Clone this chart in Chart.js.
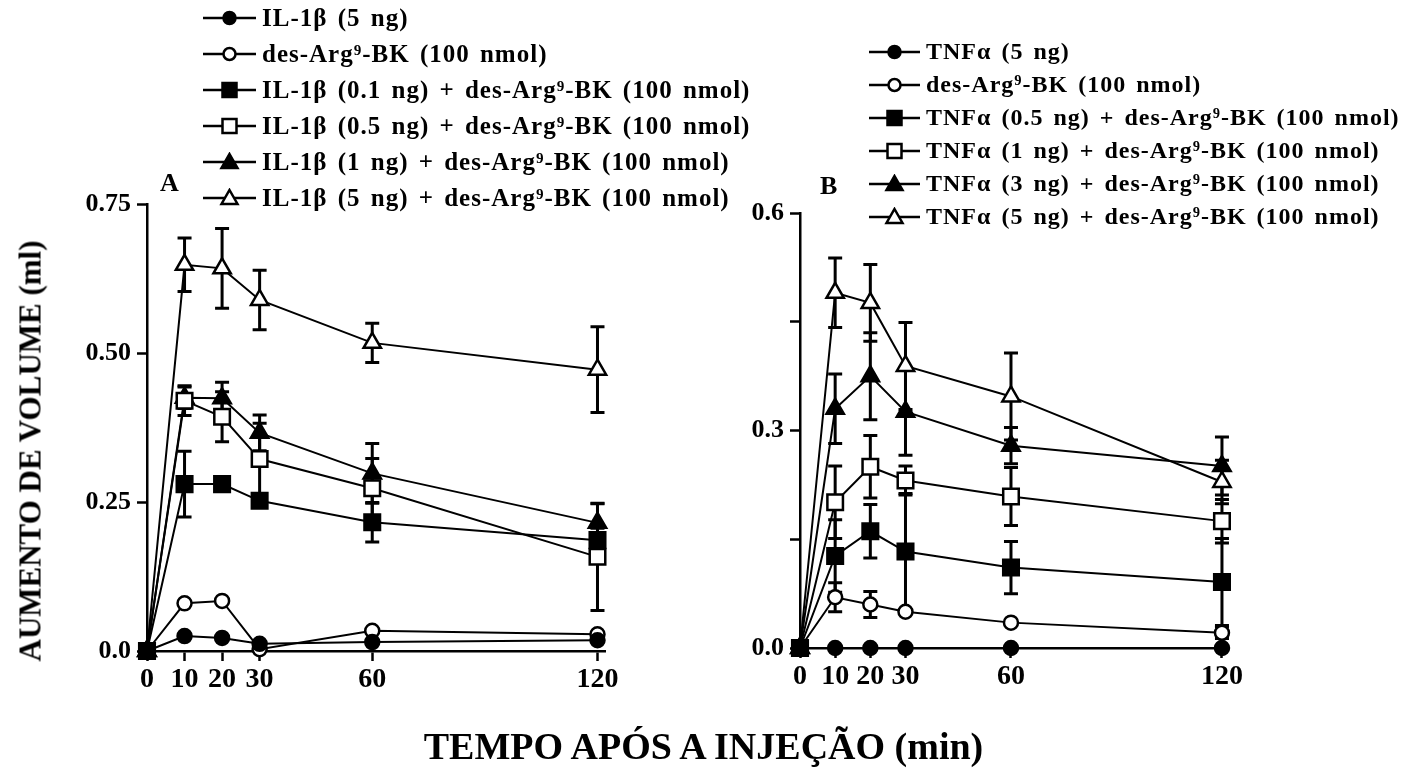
<!DOCTYPE html>
<html>
<head>
<meta charset="utf-8">
<script src="https://cdn.jsdelivr.net/npm/chart.js@4.4.0/dist/chart.umd.min.js"></script>
<style>
  body { margin:0; width:1407px; height:773px; background:#fff; position:relative; overflow:hidden;
         font-family:"Liberation Serif","Times New Roman",serif; font-weight:bold; color:#000; }
  .wrap { position:absolute; top:0; height:773px; }
  #wrapA { left:0; width:690px; }
  #wrapB { left:690px; width:717px; }
  .legend { position:absolute; }
  .legend div { display:flex; align-items:center; white-space:nowrap; letter-spacing:1px; word-spacing:3px; }
  .legend canvas { margin-right:6px; }
  #legendA { left:203px; top:0; }
  #legendA div { height:36px; font-size:25px; }
  #legendB { left:869px; top:35px; }
  #legendB div { height:33px; font-size:24px; }
  .panel { position:absolute; font-size:26px; line-height:26px; }
  #ytitle { position:absolute; left:30px; top:451px; font-size:31px; line-height:31px; white-space:nowrap;
            transform:translate(-50%,-50%) rotate(-90deg); }
  #xtitle { position:absolute; left:0; width:1407px; top:727px; text-align:center; font-size:38px; line-height:38px; }
</style>
</head>
<body>
<div class="wrap" id="wrapA"><canvas id="chartA"></canvas></div>
<div class="wrap" id="wrapB"><canvas id="chartB"></canvas></div>
<div class="legend" id="legendA"></div>
<div class="legend" id="legendB"></div>
<div class="panel" style="left:160px; top:170px;">A</div>
<div class="panel" style="left:820px; top:173px;">B</div>
<div id="ytitle">AUMENTO DE VOLUME (ml)</div>
<div id="xtitle">TEMPO APÓS A INJEÇÃO (min)</div>

<script>
// time points (min)
const times = [0, 10, 20, 30, 60, 120];

// panel A - IL-1beta
const labelsA = [
  'IL-1β (5 ng)',
  'des-Arg⁹-BK (100 nmol)',
  'IL-1β (0.1 ng) + des-Arg⁹-BK (100 nmol)',
  'IL-1β (0.5 ng) + des-Arg⁹-BK (100 nmol)',
  'IL-1β (1 ng) + des-Arg⁹-BK (100 nmol)',
  'IL-1β (5 ng) + des-Arg⁹-BK (100 nmol)'
];
const il1b5 = [0, 0.025, 0.022, 0.012, 0.015, 0.018];
const desArgA = [0, 0.080, 0.084, 0.003, 0.034, 0.028];
const il1b01Des = [0, 0.280, 0.280, 0.252, 0.216, 0.186];
const il1b05Des = [0, 0.420, 0.393, 0.322, 0.273, 0.158];
const il1b1Des = [0, 0.425, 0.424, 0.366, 0.298, 0.215];
const il1b5Des = [0, 0.648, 0.642, 0.589, 0.517, 0.472];
const il1b5Err = [0, 0, 0, 0, 0, 0];
const desArgAErr = [0, 0, 0, 0, 0, 0];
const il1b01DesErr = [0, 0.055, 0.010, 0.010, 0.033, 0.020];
const il1b05DesErr = [0, 0.025, 0.042, 0.060, 0.050, 0.090];
const il1b1DesErr = [0, 0.018, 0.027, 0.030, 0.050, 0.032];
const il1b5DesErr = [0, 0.045, 0.067, 0.050, 0.033, 0.072];

// panel B - TNF alpha
const labelsB = [
  'TNFα (5 ng)',
  'des-Arg⁹-BK (100 nmol)',
  'TNFα (0.5 ng) + des-Arg⁹-BK (100 nmol)',
  'TNFα (1 ng) + des-Arg⁹-BK (100 nmol)',
  'TNFα (3 ng) + des-Arg⁹-BK (100 nmol)',
  'TNFα (5 ng) + des-Arg⁹-BK (100 nmol)'
];
const tnf5 = [0, 0, 0, 0, 0, 0];
const desArgB = [0, 0.070, 0.060, 0.050, 0.035, 0.021];
const tnf05Des = [0, 0.127, 0.161, 0.133, 0.111, 0.091];
const tnf1Des = [0, 0.201, 0.250, 0.231, 0.209, 0.175];
const tnf3Des = [0, 0.330, 0.375, 0.326, 0.279, 0.251];
const tnf5Des = [0, 0.490, 0.476, 0.389, 0.347, 0.229];
const tnf5Err = [0, 0, 0, 0, 0, 0];
const desArgBErr = [0, 0.020, 0.018, 0, 0, 0.008];
const tnf05DesErr = [0, 0.050, 0.037, 0.080, 0.036, 0.060];
const tnf1DesErr = [0, 0.050, 0.043, 0.020, 0.040, 0.030];
const tnf3DesErr = [0, 0.048, 0.060, 0.060, 0.025, 0.040];
const tnf5DesErr = [0, 0.048, 0.053, 0.060, 0.060, 0.030];

// y tick values
const yTicksA = [0, 0.25, 0.5, 0.75];
const yTicksB = [0, 0.15, 0.3, 0.45, 0.6];

// marker for each series (same order in both panels)
const markers = ['circle', 'circle', 'rect', 'rect', 'triangle', 'triangle'];
const filled = [true, false, true, false, true, false];
const radius = { circle: 7, rect: 11, triangle: 10 };

function makeDatasets(labels, values, errs) {
  return labels.map((label, i) => ({
    label: label,
    data: times.map((t, j) => ({ x: t, y: values[i][j] })),
    err: errs[i],
    borderColor: '#000',
    borderWidth: 2,
    pointStyle: markers[i],
    pointRadius: radius[markers[i]],
    pointBorderWidth: 2.5,
    pointBorderColor: '#000',
    pointBackgroundColor: filled[i] ? '#000' : '#fff',
    tension: 0,
    clip: false
  }));
}

// draws the SEM bars through the chart's own scales, under the markers
const errorBars = {
  id: 'errorBars',
  beforeDatasetsDraw(chart) {
    const ctx = chart.ctx;
    const xs = chart.scales.x;
    const ys = chart.scales.y;
    ctx.save();
    ctx.strokeStyle = '#000';
    ctx.lineWidth = 3;
    chart.data.datasets.forEach(ds => {
      ds.err.forEach((e, i) => {
        if (!e) return;
        const v = ds.data[i].y;
        const px = xs.getPixelForValue(ds.data[i].x);
        const top = ys.getPixelForValue(v + e);
        const bot = ys.getPixelForValue(Math.max(0, v - e));
        ctx.beginPath();
        ctx.moveTo(px, top);
        ctx.lineTo(px, bot);
        ctx.moveTo(px - 7, top);
        ctx.lineTo(px + 7, top);
        ctx.moveTo(px - 7, bot);
        ctx.lineTo(px + 7, bot);
        ctx.stroke();
      });
    });
    ctx.restore();
  }
};

function axisGrid() {
  return { display: true, drawOnChartArea: false, drawTicks: true, tickLength: 10, tickColor: '#000', tickWidth: 2.5 };
}

function makeChart(id, datasets, yMax, yTicks, yLabel, yWidth, pad) {
  return new Chart(document.getElementById(id), {
    type: 'line',
    data: { datasets: datasets },
    plugins: [errorBars],
    options: {
      responsive: true,
      maintainAspectRatio: false,
      animation: false,
      layout: { padding: pad },
      plugins: { legend: { display: false }, tooltip: { enabled: false } },
      scales: {
        x: {
          type: 'linear', min: 0, max: 122,
          grid: axisGrid(),
          border: { color: '#000', width: 2.5 },
          afterBuildTicks: s => { s.ticks = times.map(v => ({ value: v })); },
          afterFit: s => { s.height = 50; },
          ticks: {
            color: '#000', padding: 2, maxRotation: 0, autoSkip: false,
            font: { family: 'Liberation Serif', weight: 'bold', size: 28 }
          }
        },
        y: {
          min: 0, max: yMax,
          grid: axisGrid(),
          border: { color: '#000', width: 2.5 },
          afterBuildTicks: s => { s.ticks = yTicks.map(v => ({ value: v })); },
          afterFit: s => { s.width = yWidth; },
          ticks: {
            color: '#000', padding: 6, autoSkip: false,
            font: { family: 'Liberation Serif', weight: 'bold', size: 26 },
            callback: yLabel
          }
        }
      }
    }
  });
}

const chartA = makeChart('chartA',
  makeDatasets(labelsA, [il1b5, desArgA, il1b01Des, il1b05Des, il1b1Des, il1b5Des],
    [il1b5Err, desArgAErr, il1b01DesErr, il1b05DesErr, il1b1DesErr, il1b5DesErr]),
  0.75, yTicksA, v => v === 0 ? '0.0' : v.toFixed(2), 147,
  { left: 0, top: 204, right: 85, bottom: 72 });

const chartB = makeChart('chartB',
  makeDatasets(labelsB, [tnf5, desArgB, tnf05Des, tnf1Des, tnf3Des, tnf5Des],
    [tnf5Err, desArgBErr, tnf05DesErr, tnf1DesErr, tnf3DesErr, tnf5DesErr]),
  0.6, yTicksB, v => (Math.round(v * 100) % 30 === 0 ? v.toFixed(1) : ''), 110,
  { left: 0, top: 213, right: 178, bottom: 75 });

// legend rows: small canvas with line + marker, then the dataset label
function drawMarker(ctx, style, fill, cx, cy) {
  ctx.beginPath();
  if (style === 'circle') {
    ctx.arc(cx, cy, 6, 0, Math.PI * 2);
  } else if (style === 'rect') {
    ctx.rect(cx - 7, cy - 7, 14, 14);
  } else {
    ctx.moveTo(cx, cy - 8);
    ctx.lineTo(cx + 8, cy + 6);
    ctx.lineTo(cx - 8, cy + 6);
    ctx.closePath();
  }
  ctx.fillStyle = fill ? '#000' : '#fff';
  ctx.fill();
  ctx.lineWidth = 2.5;
  ctx.strokeStyle = '#000';
  ctx.stroke();
}

function buildLegend(chart, boxId, w) {
  const box = document.getElementById(boxId);
  chart.data.datasets.forEach((ds, i) => {
    const row = document.createElement('div');
    const c = document.createElement('canvas');
    c.width = w;
    c.height = 20;
    const ctx = c.getContext('2d');
    ctx.strokeStyle = '#000';
    ctx.lineWidth = 2.5;
    ctx.beginPath();
    ctx.moveTo(0, 10);
    ctx.lineTo(w, 10);
    ctx.stroke();
    drawMarker(ctx, markers[i], filled[i], w / 2, 10);
    row.appendChild(c);
    const span = document.createElement('span');
    span.textContent = ds.label;
    row.appendChild(span);
    box.appendChild(row);
  });
}

buildLegend(chartA, 'legendA', 53);
buildLegend(chartB, 'legendB', 51);
</script>
</body>
</html>
